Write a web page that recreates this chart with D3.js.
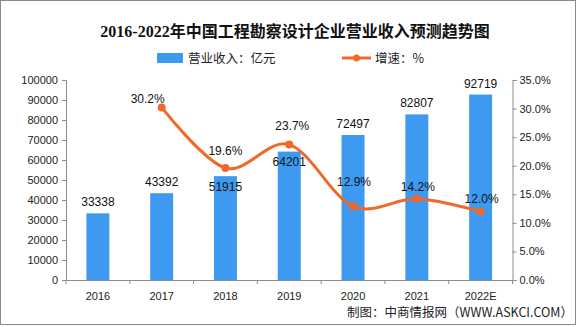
<!DOCTYPE html>
<html><head><meta charset="utf-8">
<script src="https://cdn.jsdelivr.net/npm/d3@7"></script>
<style>
html,body{margin:0;padding:0;background:#fff;}
svg{display:block;}
</style></head>
<body>
<svg id="chart" width="585" height="327"></svg>
<script>
const categories = ["2016","2017","2018","2019","2020","2021","2022E"];
const revenue = [33338, 43392, 51915, 64201, 72497, 82807, 92719];
const growth = [null, 30.2, 19.6, 23.7, 12.9, 14.2, 12.0];
const leftTicks = [0,10000,20000,30000,40000,50000,60000,70000,80000,90000,100000];
const rightTicks = [0,5,10,15,20,25,30,35];
const titleText = "2016-2022年中国工程勘察设计企业营业收入预测趋势图";
const legendBar = "营业收入：亿元";
const legendLine = "增速：%";
const sourceText = "制图：中商情报网（WWW.ASKCI.COM）";

const svg = d3.select("#chart");
const W = 585, H = 327;
const m = {left: 66, right: 512.5, top: 80, bottom: 280};
const BAR = "#3D9AF0", LINE = "#F0692B", AX = "#8c8c8c";
const numFont = "'Liberation Sans', Arial, sans-serif";
const cjkFont = "'Noto Sans CJK SC', 'Liberation Sans', sans-serif";

svg.append("rect").attr("x",0).attr("y",0).attr("width",W).attr("height",H).attr("fill","#fff");

// frame
svg.append("rect").attr("x",0.5).attr("y",0.5).attr("width",575).attr("height",324)
  .attr("fill","none").attr("stroke","#8a8a8a").attr("stroke-width",1);

const x = d3.scaleBand().domain(categories).range([m.left, m.right]).paddingInner(0.64).paddingOuter(0.32);
const xb = d3.scaleBand().domain(categories).range([m.left, m.right]);
const yL = d3.scaleLinear().domain([0,100000]).range([m.bottom, m.top]);
const yR = d3.scaleLinear().domain([0,35]).range([m.bottom, m.top]);

// title
svg.append("text").attr("x",295).attr("y",37).attr("text-anchor","middle")
  .attr("font-family","'Liberation Serif', 'Noto Sans CJK SC', serif").attr("font-weight","bold")
  .attr("font-size",16).attr("fill","#111").text(titleText);

// legend
svg.append("rect").attr("x",157).attr("y",53).attr("width",26).attr("height",10).attr("fill",BAR);
svg.append("text").attr("x",188).attr("y",63).attr("font-family",cjkFont).attr("font-size",12.5).attr("fill","#222").text(legendBar);
svg.append("line").attr("x1",342).attr("x2",371).attr("y1",58).attr("y2",58).attr("stroke",LINE).attr("stroke-width",3);
svg.append("circle").attr("cx",356.5).attr("cy",58).attr("r",3.5).attr("fill",LINE);
svg.append("text").attr("x",375).attr("y",63).attr("font-family",cjkFont).attr("font-size",12.5).attr("fill","#222").text(legendLine);

// axes
const gL = svg.append("g").attr("transform",`translate(${m.left},0)`)
  .call(d3.axisLeft(yL).tickValues(leftTicks).tickSize(4).tickPadding(4).tickFormat(d3.format("d")));
const gR = svg.append("g").attr("transform",`translate(${m.right},0)`)
  .call(d3.axisRight(yR).tickValues(rightTicks).tickSize(4).tickPadding(3).tickFormat(d => d3.format(".1f")(d) + "%"));
const gX = svg.append("g").attr("transform",`translate(0,${m.bottom})`)
  .call(d3.axisBottom(xb).tickSize(0).tickPadding(12));
[gL,gR,gX].forEach(g => {
  g.select(".domain").attr("stroke",AX);
  g.selectAll(".tick line").attr("stroke",AX);
  g.selectAll("text").attr("font-family",numFont).attr("font-size",11).attr("fill","#222");
});
// x category boundary ticks
const bounds = categories.map(c => xb(c)).concat([m.right]);
svg.append("g").selectAll("line").data(bounds).join("line")
  .attr("x1",d=>d).attr("x2",d=>d).attr("y1",m.bottom).attr("y2",m.bottom+4).attr("stroke",AX);

// bars
svg.append("g").selectAll("rect").data(categories).join("rect")
  .attr("x", c => x(c)).attr("width", x.bandwidth())
  .attr("y", (c,i) => yL(revenue[i])).attr("height", (c,i) => m.bottom - yL(revenue[i]))
  .attr("fill", BAR);
const barLabelDy = {"2018": 15, "2019": 14};
svg.append("g").selectAll("text").data(categories).join("text")
  .attr("x", c => xb(c) + xb.bandwidth()/2).attr("y", (c,i) => yL(revenue[i]) + (barLabelDy[c] ?? -7))
  .attr("text-anchor","middle").attr("font-family",numFont).attr("font-size",12).attr("fill","#111")
  .text((c,i) => revenue[i]);

// line
const pts = categories.map((c,i) => ({c, v: growth[i]})).filter(d => d.v !== null);
const line = d3.line().x(d => xb(d.c) + xb.bandwidth()/2).y(d => yR(d.v)).curve(d3.curveCardinal.tension(0));
svg.append("path").datum(pts).attr("d", line).attr("fill","none").attr("stroke",LINE).attr("stroke-width",3);
svg.append("g").selectAll("circle").data(pts).join("circle")
  .attr("cx", d => xb(d.c) + xb.bandwidth()/2).attr("cy", d => yR(d.v)).attr("r",4).attr("fill",LINE);
const nudge = {"2017":[-14,-4], "2018":[0,-13], "2019":[3,-15], "2020":[1,-20], "2021":[1,-8], "2022E":[1,-8]};
svg.append("g").selectAll("text").data(pts).join("text")
  .attr("x", d => xb(d.c) + xb.bandwidth()/2 + nudge[d.c][0]).attr("y", d => yR(d.v) + nudge[d.c][1])
  .attr("text-anchor","middle").attr("font-family",numFont).attr("font-size",12).attr("fill","#111")
  .text(d => d3.format(".1f")(d.v) + "%");

// source
svg.append("text").attr("x",573).attr("y",317).attr("text-anchor","end")
  .attr("font-family",cjkFont).attr("font-size",12.5).attr("fill","#222").text(sourceText);
</script>
</body></html>
